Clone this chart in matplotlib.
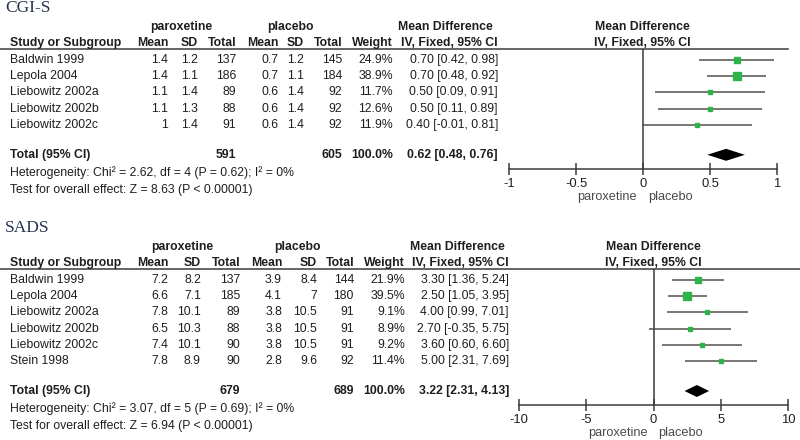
import numpy as np
from matplotlib import pyplot as plt

plt.rcParams['font.family'] = ['Liberation Sans', 'DejaVu Sans']

TXT = '#1e1e1e'
LINE = '#3a3a3a'
CI_LINE = '#555049'
GREEN = '#2db34a'

# CGI-S
cgi_studies = ["Baldwin 1999", "Lepola 2004", "Liebowitz 2002a", "Liebowitz 2002b", "Liebowitz 2002c"]
cgi_par_mean = [1.4, 1.4, 1.1, 1.1, 1]
cgi_par_sd = [1.2, 1.1, 1.4, 1.3, 1.4]
cgi_par_n = [137, 186, 89, 88, 91]
cgi_pla_mean = [0.7, 0.7, 0.6, 0.6, 0.6]
cgi_pla_sd = [1.2, 1.1, 1.4, 1.4, 1.4]
cgi_pla_n = [145, 184, 92, 92, 92]
cgi_weight = [24.9, 38.9, 11.7, 12.6, 11.9]
cgi_md = [0.70, 0.70, 0.50, 0.50, 0.40]
cgi_lo = [0.42, 0.48, 0.09, 0.11, -0.01]
cgi_hi = [0.98, 0.92, 0.91, 0.89, 0.81]
cgi_total = [591, 605, 0.62, 0.48, 0.76]
cgi_ticks = [-1, -0.5, 0, 0.5, 1]
cgi_notes = ["Heterogeneity: Chi\u00b2 = 2.62, df = 4 (P = 0.62); I\u00b2 = 0%",
             "Test for overall effect: Z = 8.63 (P < 0.00001)"]

# SADS
sads_studies = ["Baldwin 1999", "Lepola 2004", "Liebowitz 2002a", "Liebowitz 2002b", "Liebowitz 2002c", "Stein 1998"]
sads_par_mean = [7.2, 6.6, 7.8, 6.5, 7.4, 7.8]
sads_par_sd = [8.2, 7.1, 10.1, 10.3, 10.1, 8.9]
sads_par_n = [137, 185, 89, 88, 90, 90]
sads_pla_mean = [3.9, 4.1, 3.8, 3.8, 3.8, 2.8]
sads_pla_sd = [8.4, 7, 10.5, 10.5, 10.5, 9.6]
sads_pla_n = [144, 180, 91, 91, 91, 92]
sads_weight = [21.9, 39.5, 9.1, 8.9, 9.2, 11.4]
sads_md = [3.30, 2.50, 4.00, 2.70, 3.60, 5.00]
sads_lo = [1.36, 1.05, 0.99, -0.35, 0.60, 2.31]
sads_hi = [5.24, 3.95, 7.01, 5.75, 6.60, 7.69]
sads_total = [679, 689, 3.22, 2.31, 4.13]
sads_ticks = [-10, -5, 0, 5, 10]
sads_notes = ["Heterogeneity: Chi\u00b2 = 3.07, df = 5 (P = 0.69); I\u00b2 = 0%",
              "Test for overall effect: Z = 6.94 (P < 0.00001)"]

FS = 8.8


def panel(fig, ov, title, top, cols, grp, forest, line_end,
          studies, pm, psd, pn, cm, csd, cn, w, md, lo, hi, total, ticks, notes):
    # top: y pixel of title; everything else relative to it
    h1, h2, hl = top + 19, top + 35, top + 41
    row0, dy = top + 52, 16.2
    n = len(studies)
    ty = row0 + (n - 1) * dy + 30
    axis_y = ty + 14

    ov.text(5, top, title, family='Liberation Serif', fontsize=12.5, color='#24324f', va='center')
    ov.text(grp[0], h1, "paroxetine", fontsize=FS, weight='bold', color=TXT, ha='center', va='center')
    ov.text(grp[1], h1, "placebo", fontsize=FS, weight='bold', color=TXT, ha='center', va='center')
    ov.text(grp[2], h1, "Mean Difference", fontsize=FS, weight='bold', color=TXT, ha='center', va='center')
    ov.text(grp[3], h1, "Mean Difference", fontsize=FS, weight='bold', color=TXT, ha='center', va='center')
    ov.text(grp[3], h2, "IV, Fixed, 95% CI", fontsize=FS, weight='bold', color=TXT, ha='center', va='center')
    ov.text(10, h2, "Study or Subgroup", fontsize=FS, weight='bold', color=TXT, va='center')
    for x, lab in zip(cols, ["Mean", "SD", "Total", "Mean", "SD", "Total", "Weight", "IV, Fixed, 95% CI"]):
        ov.text(x, h2, lab, fontsize=FS, weight='bold', color=TXT, ha='right', va='center')
    ov.plot([0, line_end], [hl, hl], color=LINE, lw=1.1)

    for i in range(n):
        y = row0 + i * dy
        vals = [f"{pm[i]:g}", f"{psd[i]:g}", f"{pn[i]}", f"{cm[i]:g}", f"{csd[i]:g}", f"{cn[i]}",
                f"{w[i]:.1f}%", f"{md[i]:.2f} [{lo[i]:.2f}, {hi[i]:.2f}]"]
        ov.text(10, y, studies[i], fontsize=FS, color=TXT, va='center')
        for x, v in zip(cols, vals):
            ov.text(x, y, v, fontsize=FS, color=TXT, ha='right', va='center')

    ov.text(10, ty, "Total (95% CI)", fontsize=FS, weight='bold', color=TXT, va='center')
    for x, v in zip([cols[2], cols[5], cols[6], cols[7]],
                    [f"{total[0]}", f"{total[1]}", "100.0%",
                     f"{total[2]:.2f} [{total[3]:.2f}, {total[4]:.2f}]"]):
        ov.text(x, ty, v, fontsize=FS, weight='bold', color=TXT, ha='right', va='center')
    ov.text(10, ty + 18, notes[0], fontsize=FS, color=TXT, va='center')
    ov.text(10, ty + 35, notes[1], fontsize=FS, color=TXT, va='center')

    # forest plot axes, y in the same pixel rows as the table
    x0, x1 = forest
    ax = fig.add_axes([x0 / 800, 1 - axis_y / 440, (x1 - x0) / 800, (axis_y - hl) / 440])
    ax.set_facecolor('none')
    ax.set_xlim(ticks[0], ticks[-1])
    ax.set_ylim(axis_y, hl)
    for s in ['top', 'right', 'left']:
        ax.spines[s].set_visible(False)
    ax.spines['bottom'].set_color(LINE)
    ax.spines['bottom'].set_linewidth(1.1)
    ax.set_yticks([])
    ax.set_xticks(ticks)
    ax.set_xticklabels([f"{t:g}" for t in ticks])
    ax.tick_params(axis='x', direction='inout', length=9, width=1.1, color=LINE,
                   labelsize=FS + 0.6, labelcolor=TXT, pad=2)
    ax.axvline(0, color=LINE, lw=1.1)

    ys = row0 + np.arange(n) * dy
    ax.hlines(ys, lo, hi, color=CI_LINE, lw=1.1)
    for y, m, wt in zip(ys, md, w):
        ax.plot(m, y, 's', color=GREEN, mec=GREEN, ms=1.15 * np.sqrt(wt) * 0.72)
    ax.fill([total[3], total[2], total[4], total[2]], [ty, ty - 6, ty, ty + 6], color='black', lw=0)

    ax.annotate("paroxetine", xy=(0, 0), xycoords=('data', 'axes fraction'), xytext=(-6, -28),
                textcoords='offset pixels', ha='right', va='center', fontsize=FS + 0.4, color='#4a4a4a')
    ax.annotate("placebo", xy=(0, 0), xycoords=('data', 'axes fraction'), xytext=(5, -28),
                textcoords='offset pixels', ha='left', va='center', fontsize=FS + 0.4, color='#4a4a4a')
    return ax


fig = plt.figure(figsize=(8, 4.4), dpi=100)
ov = fig.add_axes([0, 0, 1, 1])
ov.set_xlim(0, 800)
ov.set_ylim(440, 0)
ov.axis('off')

panel(fig, ov, "CGI-S", 8, [168, 198, 236, 278, 304, 342, 393, 498], [181, 290, 445, 642],
      (509, 777), 788,
      cgi_studies, cgi_par_mean, cgi_par_sd, cgi_par_n, cgi_pla_mean, cgi_pla_sd, cgi_pla_n,
      cgi_weight, cgi_md, cgi_lo, cgi_hi, cgi_total, cgi_ticks, cgi_notes)

panel(fig, ov, "SADS", 228, [168, 201, 240, 282, 317, 354, 405, 509], [182, 297, 457, 653],
      (519, 788), 800,
      sads_studies, sads_par_mean, sads_par_sd, sads_par_n, sads_pla_mean, sads_pla_sd, sads_pla_n,
      sads_weight, sads_md, sads_lo, sads_hi, sads_total, sads_ticks, sads_notes)

plt.savefig("out.png", dpi=100)
plt.close()
